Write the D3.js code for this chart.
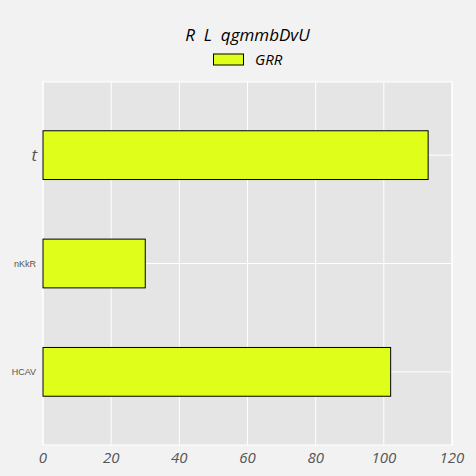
<!DOCTYPE html>
<html><head><meta charset="utf-8">
<script src="https://cdn.jsdelivr.net/npm/d3@7"></script>
<style>body{margin:0;background:#f2f2f2}</style>
</head><body>
<script>
const categories = ["HCAV", "nKkR", "t"];
const values = [102, 30, 113];
const xTicks = [0, 20, 40, 60, 80, 100, 120];
const seriesName = "GRR";
const title = "R  L  qgmmbDvU";

const W = 476, H = 476;
const m = {left: 43, right: 24, top: 82, bottom: 31};
const F = "'Open Sans'";
const svg = d3.select("body").append("svg").attr("width", W).attr("height", H)
  .style("display","block");
svg.append("rect").attr("width", W).attr("height", H).attr("fill", "#f2f2f2");

const x = d3.scaleLinear().domain([0, 120]).range([m.left, W - m.right]);
const y = d3.scaleLinear().domain([-0.675, 2.675]).range([H - m.bottom, m.top]);

svg.append("rect").attr("x", m.left).attr("y", m.top)
  .attr("width", x(120) - x(0)).attr("height", y(-0.675) - y(2.675))
  .attr("fill", "#e5e5e5").attr("stroke", "#ffffff").attr("stroke-width", 1);

const g = svg.append("g");
g.selectAll("line.vx").data(xTicks).join("line")
  .attr("x1", d => x(d)).attr("x2", d => x(d))
  .attr("y1", m.top).attr("y2", H - m.bottom)
  .attr("stroke", "#fff").attr("stroke-width", 1);
g.selectAll("line.hy").data(categories).join("line")
  .attr("x1", m.left).attr("x2", W - m.right)
  .attr("y1", (d, i) => y(i)).attr("y2", (d, i) => y(i))
  .attr("stroke", "#fff").attr("stroke-width", 1);

const bh = 0.45;
svg.selectAll("rect.bar").data(values).join("rect")
  .attr("x", x(0)).attr("y", (d, i) => y(i + bh / 2))
  .attr("width", d => x(d) - x(0))
  .attr("height", (d, i) => y(i - bh / 2) - y(i + bh / 2))
  .attr("fill", "#dfff1a").attr("stroke", "#000").attr("stroke-width", 1);

// x tick labels
svg.selectAll("text.xt").data(xTicks).join("text")
  .attr("x", d => x(d)).attr("y", 463)
  .attr("text-anchor", "middle")
  .attr("font-family", F).attr("font-style", "italic")
  .attr("font-size", 15).attr("fill", "#555")
  .text(d => d);

// y tick labels
svg.selectAll("text.yt").data(categories).join("text")
  .attr("x", d => d === "t" ? m.left - 6 : m.left - 7).attr("y", (d, i) => y(i))
  .attr("dy", d => d === "t" ? "0.36em" : "0.35em").attr("text-anchor", "end")
  .attr("font-family", d => d === "t" ? F : "Liberation Sans")
  .attr("font-style", d => d === "t" ? "italic" : "normal")
  .attr("font-size", d => d === "t" ? 17 : 9)
  .attr("fill", "#555")
  .text(d => d);

// title
svg.append("text").attr("x", (x(0) + x(120)) / 2).attr("y", 41)
  .attr("text-anchor", "middle").attr("font-family", F)
  .attr("font-style", "italic").attr("font-size", 17).attr("fill", "#000")
  .style("white-space", "pre")
  .text(title);

// legend
svg.append("rect").attr("x", 213.5).attr("y", 54).attr("width", 30).attr("height", 11)
  .attr("fill", "#dfff1a").attr("stroke", "#000").attr("stroke-width", 1);
svg.append("text").attr("x", 255).attr("y", 65)
  .attr("font-family", F).attr("font-style", "italic")
  .attr("font-size", 15).attr("fill", "#000").text(seriesName);
</script>
</body></html>
